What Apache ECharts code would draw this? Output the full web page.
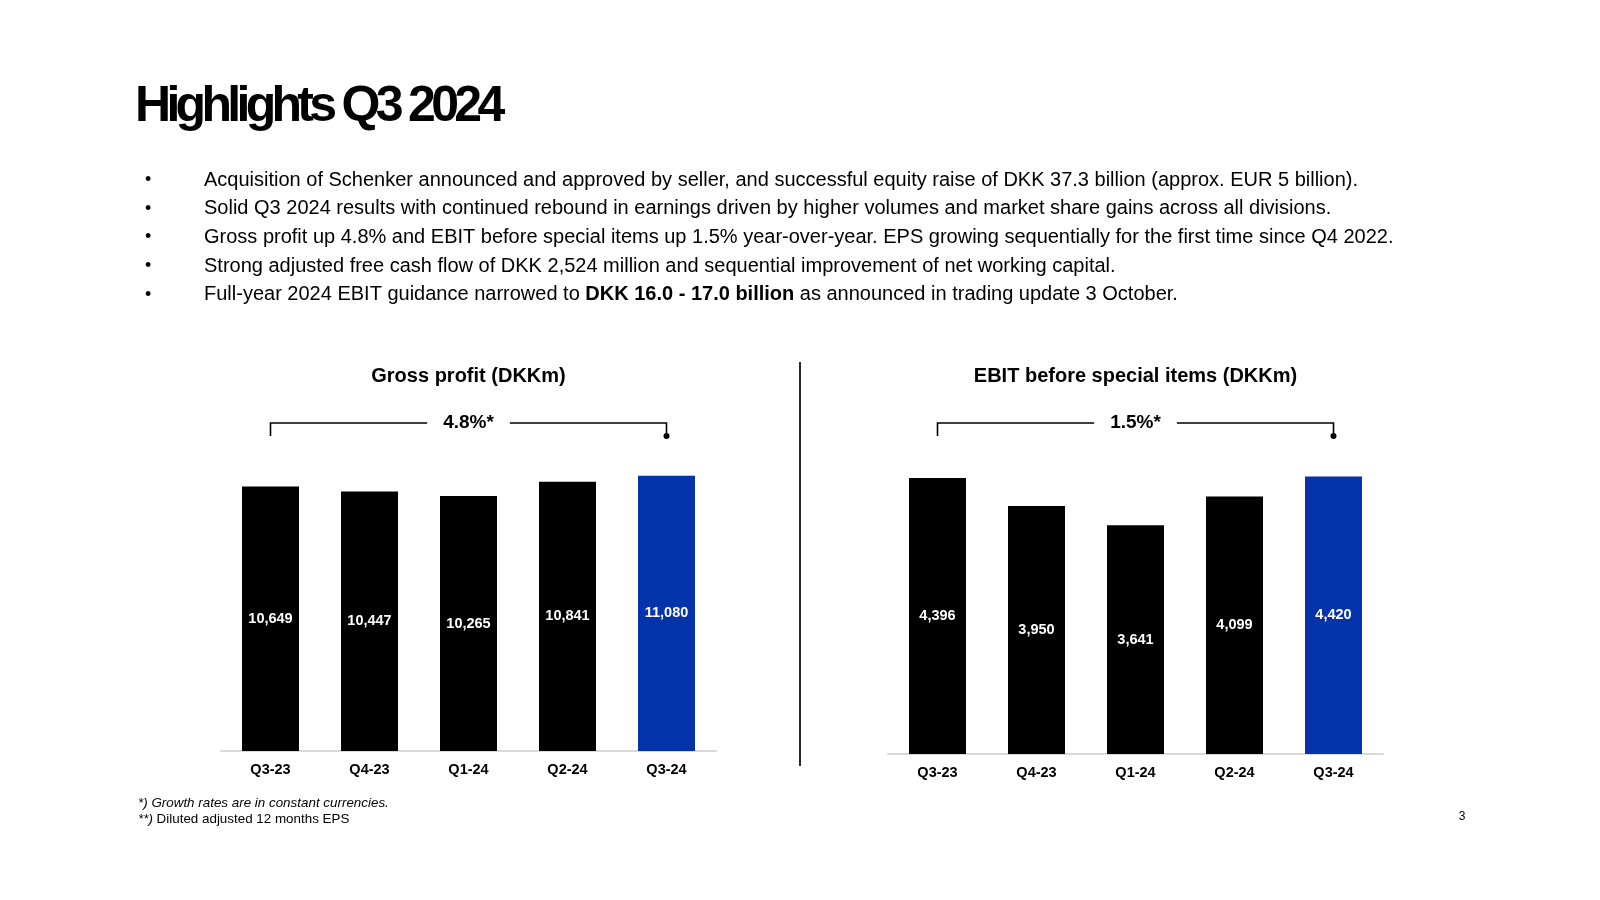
<!DOCTYPE html>
<html><head><meta charset="utf-8">
<script src="https://cdn.jsdelivr.net/npm/echarts@6/dist/echarts.min.js"></script>
<style>html,body{margin:0;padding:0;background:#fff}#c{width:1600px;height:900px}</style>
</head><body><div id="c"></div>
<script>
// ---- data ----
const categories = ['Q3-23', 'Q4-23', 'Q1-24', 'Q2-24', 'Q3-24'];
const grossProfit = [10649, 10447, 10265, 10841, 11080];
const ebitBSI = [4396, 3950, 3641, 4099, 4420];
const chartTitles = ['Gross profit (DKKm)', 'EBIT before special items (DKKm)'];
const growthLabels = ['4.8%*', '1.5%*'];
const pageTitle = 'Highlights Q3 2024';
const bulletLines = [
  [['Acquisition of Schenker announced and approved by seller, and successful equity raise of DKK 37.3 billion (approx. EUR 5 billion).', false]],
  [['Solid Q3 2024 results with continued rebound in earnings driven by higher volumes and market share gains across all divisions.', false]],
  [['Gross profit up 4.8% and EBIT before special items up 1.5% year-over-year. EPS growing sequentially for the first time since Q4 2022.', false]],
  [['Strong adjusted free cash flow of DKK 2,524 million and sequential improvement of net working capital.', false]],
  [['Full-year 2024 EBIT guidance narrowed to ', false], ['DKK 16.0 - 17.0 billion', true], [' as announced in trading update 3 October.', false]]
];
const footnote1 = '*) Growth rates are in constant currencies.';
const footnote2a = '**)';
const footnote2b = ' Diluted adjusted 12 months EPS';
const pageNumber = '3';

// ---- styling ----
const FONT = 'Liberation Sans, Arial, Helvetica, sans-serif';
const BLUE = '#0533a9';
const chart = echarts.init(document.getElementById('c'), null, { renderer: 'canvas' });

const grids = [
  { left: 221, width: 495, top: 453, height: 298 },
  { left: 888, width: 495, top: 440, height: 314 }
];
const maxes = [12000, 5000];
const seriesData = [grossProfit, ebitBSI];

function barData(arr) {
  return arr.map((v, i) => ({ value: v, itemStyle: { color: i === arr.length - 1 ? BLUE : '#000000' } }));
}

const option = {
  backgroundColor: '#ffffff',
  animation: false,
  title: chartTitles.map((t, k) => ({
    text: t,
    left: grids[k].left + grids[k].width / 2,
    top: 366,
    padding: 0,
    textAlign: 'center',
    textStyle: { fontFamily: FONT, fontWeight: 'bold', fontSize: 20, color: '#000' }
  })),
  grid: grids,
  xAxis: grids.map((g, k) => ({
    type: 'category', gridIndex: k, data: categories,
    axisLine: { lineStyle: { color: '#d9d9d9', width: 2 } },
    axisTick: { show: false },
    axisLabel: { fontFamily: FONT, fontWeight: 'bold', fontSize: 14.5, color: '#000', margin: 11 }
  })),
  yAxis: grids.map((g, k) => ({
    type: 'value', gridIndex: k, min: 0, max: maxes[k], show: false, splitLine: { show: false }
  })),
  series: seriesData.map((d, k) => ({
    type: 'bar', xAxisIndex: k, yAxisIndex: k, data: barData(d), barWidth: 57,
    label: {
      show: true, position: 'inside', color: '#fff', fontFamily: FONT, fontWeight: 'bold', fontSize: 14.5,
      formatter: p => p.value.toLocaleString('en-US')
    }
  }))
};
chart.setOption(option);

// ---- annotations & text ----
const measureCtx = document.createElement('canvas').getContext('2d');
function textWidth(t, font) { measureCtx.font = font; return measureCtx.measureText(t).width; }

const graphics = [];
// page title: bold with tight tracking, one glyph at a time
(function () {
  const font = 'bold 50px ' + FONT;
  const tracking = -4.7;
  let x = 135;
  const children = [];
  for (const ch of pageTitle) {
    children.push({ type: 'text', x: x, y: 107, style: { text: ch, font: font, fill: '#000', textVerticalAlign: 'middle' } });
    x += textWidth(ch, font) + tracking;
  }
  graphics.push({ type: 'group', children: children });
})();
// bullets
const bulletY0 = 180, bulletStep = 28.7;
bulletLines.forEach((segs, i) => {
  const y = bulletY0 + i * bulletStep;
  graphics.push({ type: 'text', x: 145, y: y, style: { text: '•', font: '18px ' + FONT, fill: '#000', textVerticalAlign: 'middle' } });
  const txt = segs.map(s => s[1] ? '{b|' + s[0] + '}' : '{n|' + s[0] + '}').join('');
  graphics.push({
    type: 'text', x: 204, y: y,
    style: {
      text: txt, fill: '#000', textVerticalAlign: 'middle',
      rich: {
        n: { fontFamily: FONT, fontSize: 20, color: '#000' },
        b: { fontFamily: FONT, fontSize: 20, fontWeight: 'bold', color: '#000' }
      }
    }
  });
});
// divider
graphics.push({ type: 'line', shape: { x1: 800, y1: 362, x2: 800, y2: 766 }, style: { stroke: '#262626', lineWidth: 2 } });
// growth brackets
const bracketY = 423, tickBottom = 436;
growthLabels.forEach((lab, k) => {
  const xa = chart.convertToPixel({ xAxisIndex: k }, categories[0]);
  const xb = chart.convertToPixel({ xAxisIndex: k }, categories[categories.length - 1]);
  const cx = (xa + xb) / 2;
  const font = 'bold 19px ' + FONT;
  const half = textWidth(lab, font) / 2 + 16;
  const ls = { stroke: '#000', lineWidth: 1.6 };
  graphics.push({ type: 'polyline', shape: { points: [[xa, tickBottom], [xa, bracketY], [cx - half, bracketY]] }, style: ls });
  graphics.push({ type: 'polyline', shape: { points: [[cx + half, bracketY], [xb, bracketY], [xb, tickBottom]] }, style: ls });
  graphics.push({ type: 'circle', shape: { cx: xb, cy: tickBottom, r: 3 }, style: { fill: '#000' } });
  graphics.push({ type: 'text', x: cx, y: bracketY, style: { text: lab, font: font, fill: '#000', textAlign: 'center', textVerticalAlign: 'middle' } });
});
// footnotes
graphics.push({ type: 'text', x: 138, y: 803, style: { text: footnote1, font: 'italic 13.4px ' + FONT, fill: '#000', textVerticalAlign: 'middle' } });
graphics.push({
  type: 'text', x: 138, y: 819,
  style: {
    text: '{i|' + footnote2a + '}{n|' + footnote2b + '}', textVerticalAlign: 'middle',
    rich: { i: { fontFamily: FONT, fontSize: 13.4, fontStyle: 'italic', color: '#000' }, n: { fontFamily: FONT, fontSize: 13.4, color: '#000' } }
  }
});
graphics.push({ type: 'text', x: 1462, y: 817, style: { text: pageNumber, font: '12px ' + FONT, fill: '#000', textAlign: 'center', textVerticalAlign: 'middle' } });

chart.setOption({ graphic: graphics });
</script>
</body></html>
